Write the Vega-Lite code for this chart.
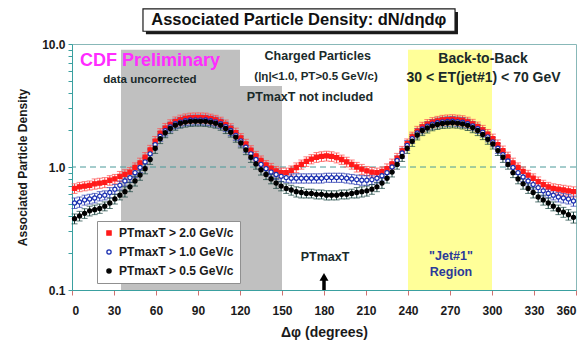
{
"$schema": "https://vega.github.io/schema/vega-lite/v6.json",
"width": 504, "height": 246,
"autosize": {"type": "none"},
"padding": {"left": 72, "top": 44, "right": 11, "bottom": 61},
"background": "white",
"config": {
  "font": "Liberation Sans",
  "view": {"stroke": "#88b8b8", "strokeWidth": 1},
  "axis": {"labelFont": "Liberation Sans", "titleFont": "Liberation Sans", "labelFontWeight": "bold", "titleFontWeight": "bold", "labelColor": "#1a1a1a", "titleColor": "#1a1a1a", "domainColor": "#3aa0a0", "tickColor": "#d07070", "grid": false}
},
"datasets": {
"pts": [
{"s":"a","x":1.8,"y":0.67,"e":0.06},{"s":"a","x":5.4,"y":0.69,"e":0.06},{"s":"a","x":9,"y":0.70,"e":0.06},{"s":"a","x":12.6,"y":0.71,"e":0.06},{"s":"a","x":16.2,"y":0.73,"e":0.07},{"s":"a","x":19.8,"y":0.74,"e":0.07},{"s":"a","x":23.4,"y":0.75,"e":0.07},{"s":"a","x":27,"y":0.78,"e":0.07},{"s":"a","x":30.6,"y":0.80,"e":0.07},{"s":"a","x":34.2,"y":0.84,"e":0.08},
{"s":"a","x":37.8,"y":0.87,"e":0.08},{"s":"a","x":41.4,"y":0.91,"e":0.08},{"s":"a","x":45,"y":0.99,"e":0.09},{"s":"a","x":48.6,"y":1.08,"e":0.1},{"s":"a","x":52.2,"y":1.20,"e":0.11},{"s":"a","x":55.8,"y":1.38,"e":0.12},{"s":"a","x":59.4,"y":1.62,"e":0.15},{"s":"a","x":63,"y":1.88,"e":0.17},{"s":"a","x":66.6,"y":2.07,"e":0.19},{"s":"a","x":70.2,"y":2.22,"e":0.2},
{"s":"a","x":73.8,"y":2.34,"e":0.21},{"s":"a","x":77.4,"y":2.42,"e":0.22},{"s":"a","x":81,"y":2.48,"e":0.22},{"s":"a","x":84.6,"y":2.51,"e":0.23},{"s":"a","x":88.2,"y":2.52,"e":0.23},{"s":"a","x":91.8,"y":2.52,"e":0.23},{"s":"a","x":95.4,"y":2.51,"e":0.23},{"s":"a","x":99,"y":2.47,"e":0.22},{"s":"a","x":102.6,"y":2.41,"e":0.22},{"s":"a","x":106.2,"y":2.33,"e":0.21},
{"s":"a","x":109.8,"y":2.21,"e":0.2},{"s":"a","x":113.4,"y":2.06,"e":0.19},{"s":"a","x":117,"y":1.90,"e":0.17},{"s":"a","x":120.6,"y":1.72,"e":0.15},{"s":"a","x":124.2,"y":1.54,"e":0.14},{"s":"a","x":127.8,"y":1.37,"e":0.12},{"s":"a","x":131.4,"y":1.23,"e":0.11},{"s":"a","x":135,"y":1.13,"e":0.1},{"s":"a","x":138.6,"y":1.04,"e":0.09},{"s":"a","x":142.2,"y":0.98,"e":0.09},
{"s":"a","x":145.8,"y":0.93,"e":0.08},{"s":"a","x":149.4,"y":0.90,"e":0.08},{"s":"a","x":153,"y":0.90,"e":0.08},{"s":"a","x":156.6,"y":0.94,"e":0.08},{"s":"a","x":160.2,"y":0.99,"e":0.09},{"s":"a","x":163.8,"y":1.05,"e":0.09},{"s":"a","x":167.4,"y":1.11,"e":0.1},{"s":"a","x":171,"y":1.16,"e":0.1},{"s":"a","x":174.6,"y":1.20,"e":0.11},{"s":"a","x":178.2,"y":1.22,"e":0.11},
{"s":"a","x":181.8,"y":1.23,"e":0.11},{"s":"a","x":185.4,"y":1.22,"e":0.11},{"s":"a","x":189,"y":1.19,"e":0.11},{"s":"a","x":192.6,"y":1.15,"e":0.1},{"s":"a","x":196.2,"y":1.10,"e":0.1},{"s":"a","x":199.8,"y":1.05,"e":0.09},{"s":"a","x":203.4,"y":1.00,"e":0.09},{"s":"a","x":207,"y":0.96,"e":0.09},{"s":"a","x":210.6,"y":0.93,"e":0.08},{"s":"a","x":214.2,"y":0.91,"e":0.08},
{"s":"a","x":217.8,"y":0.90,"e":0.08},{"s":"a","x":221.4,"y":0.92,"e":0.08},{"s":"a","x":225,"y":0.97,"e":0.09},{"s":"a","x":228.6,"y":1.06,"e":0.1},{"s":"a","x":232.2,"y":1.18,"e":0.11},{"s":"a","x":235.8,"y":1.35,"e":0.12},{"s":"a","x":239.4,"y":1.55,"e":0.14},{"s":"a","x":243,"y":1.76,"e":0.16},{"s":"a","x":246.6,"y":1.96,"e":0.18},{"s":"a","x":250.2,"y":2.12,"e":0.19},
{"s":"a","x":253.8,"y":2.23,"e":0.2},{"s":"a","x":257.4,"y":2.31,"e":0.21},{"s":"a","x":261,"y":2.37,"e":0.21},{"s":"a","x":264.6,"y":2.41,"e":0.22},{"s":"a","x":268.2,"y":2.43,"e":0.22},{"s":"a","x":271.8,"y":2.44,"e":0.22},{"s":"a","x":275.4,"y":2.42,"e":0.22},{"s":"a","x":279,"y":2.39,"e":0.22},{"s":"a","x":282.6,"y":2.33,"e":0.21},{"s":"a","x":286.2,"y":2.24,"e":0.2},
{"s":"a","x":289.8,"y":2.13,"e":0.19},{"s":"a","x":293.4,"y":2.00,"e":0.18},{"s":"a","x":297,"y":1.85,"e":0.17},{"s":"a","x":300.6,"y":1.70,"e":0.15},{"s":"a","x":304.2,"y":1.52,"e":0.14},{"s":"a","x":307.8,"y":1.36,"e":0.12},{"s":"a","x":311.4,"y":1.21,"e":0.11},{"s":"a","x":315,"y":1.08,"e":0.1},{"s":"a","x":318.6,"y":0.99,"e":0.09},{"s":"a","x":322.2,"y":0.92,"e":0.08},
{"s":"a","x":325.8,"y":0.86,"e":0.08},{"s":"a","x":329.4,"y":0.81,"e":0.07},{"s":"a","x":333,"y":0.76,"e":0.07},{"s":"a","x":336.6,"y":0.72,"e":0.06},{"s":"a","x":340.2,"y":0.69,"e":0.06},{"s":"a","x":343.8,"y":0.67,"e":0.06},{"s":"a","x":347.4,"y":0.66,"e":0.06},{"s":"a","x":351,"y":0.65,"e":0.06},{"s":"a","x":354.6,"y":0.64,"e":0.06},{"s":"a","x":358.2,"y":0.63,"e":0.06},
{"s":"b","x":1.8,"y":0.51,"e":0.05},{"s":"b","x":5.4,"y":0.52,"e":0.05},{"s":"b","x":9,"y":0.54,"e":0.05},{"s":"b","x":12.6,"y":0.55,"e":0.05},{"s":"b","x":16.2,"y":0.56,"e":0.05},{"s":"b","x":19.8,"y":0.58,"e":0.05},{"s":"b","x":23.4,"y":0.59,"e":0.05},{"s":"b","x":27,"y":0.62,"e":0.06},{"s":"b","x":30.6,"y":0.66,"e":0.06},{"s":"b","x":34.2,"y":0.71,"e":0.06},
{"s":"b","x":37.8,"y":0.77,"e":0.07},{"s":"b","x":41.4,"y":0.82,"e":0.07},{"s":"b","x":45,"y":0.90,"e":0.08},{"s":"b","x":48.6,"y":0.99,"e":0.09},{"s":"b","x":52.2,"y":1.10,"e":0.1},{"s":"b","x":55.8,"y":1.28,"e":0.12},{"s":"b","x":59.4,"y":1.52,"e":0.14},{"s":"b","x":63,"y":1.78,"e":0.16},{"s":"b","x":66.6,"y":1.97,"e":0.18},{"s":"b","x":70.2,"y":2.12,"e":0.19},
{"s":"b","x":73.8,"y":2.25,"e":0.2},{"s":"b","x":77.4,"y":2.32,"e":0.21},{"s":"b","x":81,"y":2.38,"e":0.21},{"s":"b","x":84.6,"y":2.41,"e":0.22},{"s":"b","x":88.2,"y":2.42,"e":0.22},{"s":"b","x":91.8,"y":2.42,"e":0.22},{"s":"b","x":95.4,"y":2.41,"e":0.22},{"s":"b","x":99,"y":2.38,"e":0.21},{"s":"b","x":102.6,"y":2.33,"e":0.21},{"s":"b","x":106.2,"y":2.25,"e":0.2},
{"s":"b","x":109.8,"y":2.13,"e":0.19},{"s":"b","x":113.4,"y":1.98,"e":0.18},{"s":"b","x":117,"y":1.81,"e":0.16},{"s":"b","x":120.6,"y":1.63,"e":0.15},{"s":"b","x":124.2,"y":1.45,"e":0.13},{"s":"b","x":127.8,"y":1.28,"e":0.12},{"s":"b","x":131.4,"y":1.15,"e":0.1},{"s":"b","x":135,"y":1.05,"e":0.09},{"s":"b","x":138.6,"y":0.97,"e":0.09},{"s":"b","x":142.2,"y":0.91,"e":0.08},
{"s":"b","x":145.8,"y":0.87,"e":0.08},{"s":"b","x":149.4,"y":0.84,"e":0.08},{"s":"b","x":153,"y":0.82,"e":0.07},{"s":"b","x":156.6,"y":0.81,"e":0.07},{"s":"b","x":160.2,"y":0.81,"e":0.07},{"s":"b","x":163.8,"y":0.81,"e":0.07},{"s":"b","x":167.4,"y":0.81,"e":0.07},{"s":"b","x":171,"y":0.81,"e":0.07},{"s":"b","x":174.6,"y":0.81,"e":0.07},{"s":"b","x":178.2,"y":0.81,"e":0.07},
{"s":"b","x":181.8,"y":0.82,"e":0.07},{"s":"b","x":185.4,"y":0.82,"e":0.07},{"s":"b","x":189,"y":0.82,"e":0.07},{"s":"b","x":192.6,"y":0.82,"e":0.07},{"s":"b","x":196.2,"y":0.81,"e":0.07},{"s":"b","x":199.8,"y":0.80,"e":0.07},{"s":"b","x":203.4,"y":0.79,"e":0.07},{"s":"b","x":207,"y":0.78,"e":0.07},{"s":"b","x":210.6,"y":0.78,"e":0.07},{"s":"b","x":214.2,"y":0.79,"e":0.07},
{"s":"b","x":217.8,"y":0.81,"e":0.07},{"s":"b","x":221.4,"y":0.85,"e":0.08},{"s":"b","x":225,"y":0.90,"e":0.08},{"s":"b","x":228.6,"y":1.00,"e":0.09},{"s":"b","x":232.2,"y":1.13,"e":0.1},{"s":"b","x":235.8,"y":1.30,"e":0.12},{"s":"b","x":239.4,"y":1.50,"e":0.14},{"s":"b","x":243,"y":1.70,"e":0.15},{"s":"b","x":246.6,"y":1.89,"e":0.17},{"s":"b","x":250.2,"y":2.04,"e":0.18},
{"s":"b","x":253.8,"y":2.15,"e":0.19},{"s":"b","x":257.4,"y":2.23,"e":0.2},{"s":"b","x":261,"y":2.29,"e":0.21},{"s":"b","x":264.6,"y":2.33,"e":0.21},{"s":"b","x":268.2,"y":2.35,"e":0.21},{"s":"b","x":271.8,"y":2.36,"e":0.21},{"s":"b","x":275.4,"y":2.34,"e":0.21},{"s":"b","x":279,"y":2.31,"e":0.21},{"s":"b","x":282.6,"y":2.25,"e":0.2},{"s":"b","x":286.2,"y":2.16,"e":0.19},
{"s":"b","x":289.8,"y":2.05,"e":0.18},{"s":"b","x":293.4,"y":1.92,"e":0.17},{"s":"b","x":297,"y":1.76,"e":0.16},{"s":"b","x":300.6,"y":1.60,"e":0.14},{"s":"b","x":304.2,"y":1.42,"e":0.13},{"s":"b","x":307.8,"y":1.26,"e":0.11},{"s":"b","x":311.4,"y":1.12,"e":0.1},{"s":"b","x":315,"y":0.99,"e":0.09},{"s":"b","x":318.6,"y":0.90,"e":0.08},{"s":"b","x":322.2,"y":0.83,"e":0.07},
{"s":"b","x":325.8,"y":0.77,"e":0.07},{"s":"b","x":329.4,"y":0.72,"e":0.06},{"s":"b","x":333,"y":0.68,"e":0.06},{"s":"b","x":336.6,"y":0.64,"e":0.06},{"s":"b","x":340.2,"y":0.61,"e":0.05},{"s":"b","x":343.8,"y":0.59,"e":0.05},{"s":"b","x":347.4,"y":0.57,"e":0.05},{"s":"b","x":351,"y":0.56,"e":0.05},{"s":"b","x":354.6,"y":0.55,"e":0.05},{"s":"b","x":358.2,"y":0.53,"e":0.05},
{"s":"c","x":1.8,"y":0.38,"e":0.035},{"s":"c","x":5.4,"y":0.40,"e":0.036},{"s":"c","x":9,"y":0.42,"e":0.038},{"s":"c","x":12.6,"y":0.44,"e":0.04},{"s":"c","x":16.2,"y":0.45,"e":0.04},{"s":"c","x":19.8,"y":0.46,"e":0.04},{"s":"c","x":23.4,"y":0.48,"e":0.04},{"s":"c","x":27,"y":0.51,"e":0.05},{"s":"c","x":30.6,"y":0.55,"e":0.05},{"s":"c","x":34.2,"y":0.59,"e":0.05},
{"s":"c","x":37.8,"y":0.63,"e":0.06},{"s":"c","x":41.4,"y":0.69,"e":0.06},{"s":"c","x":45,"y":0.77,"e":0.07},{"s":"c","x":48.6,"y":0.86,"e":0.08},{"s":"c","x":52.2,"y":0.97,"e":0.09},{"s":"c","x":55.8,"y":1.15,"e":0.1},{"s":"c","x":59.4,"y":1.42,"e":0.13},{"s":"c","x":63,"y":1.70,"e":0.15},{"s":"c","x":66.6,"y":1.90,"e":0.17},{"s":"c","x":70.2,"y":2.06,"e":0.19},
{"s":"c","x":73.8,"y":2.19,"e":0.2},{"s":"c","x":77.4,"y":2.27,"e":0.2},{"s":"c","x":81,"y":2.32,"e":0.21},{"s":"c","x":84.6,"y":2.35,"e":0.21},{"s":"c","x":88.2,"y":2.36,"e":0.21},{"s":"c","x":91.8,"y":2.36,"e":0.21},{"s":"c","x":95.4,"y":2.35,"e":0.21},{"s":"c","x":99,"y":2.32,"e":0.21},{"s":"c","x":102.6,"y":2.27,"e":0.2},{"s":"c","x":106.2,"y":2.19,"e":0.2},
{"s":"c","x":109.8,"y":2.06,"e":0.19},{"s":"c","x":113.4,"y":1.92,"e":0.17},{"s":"c","x":117,"y":1.75,"e":0.16},{"s":"c","x":120.6,"y":1.57,"e":0.14},{"s":"c","x":124.2,"y":1.38,"e":0.12},{"s":"c","x":127.8,"y":1.20,"e":0.11},{"s":"c","x":131.4,"y":1.06,"e":0.1},{"s":"c","x":135,"y":0.95,"e":0.09},{"s":"c","x":138.6,"y":0.87,"e":0.08},{"s":"c","x":142.2,"y":0.80,"e":0.07},
{"s":"c","x":145.8,"y":0.74,"e":0.07},{"s":"c","x":149.4,"y":0.70,"e":0.06},{"s":"c","x":153,"y":0.67,"e":0.06},{"s":"c","x":156.6,"y":0.65,"e":0.06},{"s":"c","x":160.2,"y":0.63,"e":0.06},{"s":"c","x":163.8,"y":0.62,"e":0.06},{"s":"c","x":167.4,"y":0.61,"e":0.05},{"s":"c","x":171,"y":0.61,"e":0.05},{"s":"c","x":174.6,"y":0.60,"e":0.05},{"s":"c","x":178.2,"y":0.60,"e":0.05},
{"s":"c","x":181.8,"y":0.59,"e":0.05},{"s":"c","x":185.4,"y":0.59,"e":0.05},{"s":"c","x":189,"y":0.59,"e":0.05},{"s":"c","x":192.6,"y":0.60,"e":0.05},{"s":"c","x":196.2,"y":0.60,"e":0.05},{"s":"c","x":199.8,"y":0.61,"e":0.05},{"s":"c","x":203.4,"y":0.62,"e":0.06},{"s":"c","x":207,"y":0.63,"e":0.06},{"s":"c","x":210.6,"y":0.64,"e":0.06},{"s":"c","x":214.2,"y":0.66,"e":0.06},
{"s":"c","x":217.8,"y":0.69,"e":0.06},{"s":"c","x":221.4,"y":0.74,"e":0.07},{"s":"c","x":225,"y":0.81,"e":0.07},{"s":"c","x":228.6,"y":0.91,"e":0.08},{"s":"c","x":232.2,"y":1.05,"e":0.09},{"s":"c","x":235.8,"y":1.22,"e":0.11},{"s":"c","x":239.4,"y":1.42,"e":0.13},{"s":"c","x":243,"y":1.62,"e":0.15},{"s":"c","x":246.6,"y":1.82,"e":0.16},{"s":"c","x":250.2,"y":1.98,"e":0.18},
{"s":"c","x":253.8,"y":2.08,"e":0.19},{"s":"c","x":257.4,"y":2.16,"e":0.19},{"s":"c","x":261,"y":2.22,"e":0.2},{"s":"c","x":264.6,"y":2.26,"e":0.2},{"s":"c","x":268.2,"y":2.28,"e":0.21},{"s":"c","x":271.8,"y":2.29,"e":0.21},{"s":"c","x":275.4,"y":2.27,"e":0.2},{"s":"c","x":279,"y":2.24,"e":0.2},{"s":"c","x":282.6,"y":2.18,"e":0.2},{"s":"c","x":286.2,"y":2.09,"e":0.19},
{"s":"c","x":289.8,"y":1.98,"e":0.18},{"s":"c","x":293.4,"y":1.84,"e":0.17},{"s":"c","x":297,"y":1.68,"e":0.15},{"s":"c","x":300.6,"y":1.54,"e":0.14},{"s":"c","x":304.2,"y":1.36,"e":0.12},{"s":"c","x":307.8,"y":1.20,"e":0.11},{"s":"c","x":311.4,"y":1.05,"e":0.09},{"s":"c","x":315,"y":0.90,"e":0.08},{"s":"c","x":318.6,"y":0.80,"e":0.07},{"s":"c","x":322.2,"y":0.73,"e":0.07},
{"s":"c","x":325.8,"y":0.67,"e":0.06},{"s":"c","x":329.4,"y":0.62,"e":0.06},{"s":"c","x":333,"y":0.57,"e":0.05},{"s":"c","x":336.6,"y":0.54,"e":0.05},{"s":"c","x":340.2,"y":0.51,"e":0.05},{"s":"c","x":343.8,"y":0.48,"e":0.04},{"s":"c","x":347.4,"y":0.45,"e":0.04},{"s":"c","x":351,"y":0.43,"e":0.04},{"s":"c","x":354.6,"y":0.41,"e":0.04},{"s":"c","x":358.2,"y":0.39,"e":0.04}
]
},
"layer": [
{
  "data": {"values": [{"x": 52.8, "x2": 275.7, "y": 12.0, "y2": 18.2}]},
  "mark": {"type": "rect", "color": "#1a1a1a"},
  "encoding": {
    "x": {"field": "x", "type": "quantitative", "scale": {"domain": [0, 360], "nice": false},
      "axis": {"title": "Δφ  (degrees)", "values": [0,30,60,90,120,150,180,210,240,270,300,330,360], "labelFontSize": 12, "titleFontSize": 14, "tickSize": 5, "labelPadding": 10, "titlePadding": 9}},
    "x2": {"field": "x2"},
    "y": {"field": "y", "type": "quantitative", "scale": {"type": "log", "domain": [0.1, 10], "nice": false},
      "axis": {"title": "Associated Particle Density", "values": [0.1,0.2,0.3,0.4,0.5,0.6,0.7,0.8,0.9,1,2,3,4,5,6,7,8,9,10], "labelExpr": "datum.value == 0.1 ? '0.1' : datum.value == 1 ? '1.0' : datum.value == 10 ? '10.0' : ''", "labelFontSize": 12, "titleFontSize": 12, "tickSize": 4, "labelPadding": 3, "titlePadding": 12, "tickColor": "#3aa0a0"}},
    "y2": {"field": "y2"}
  }
},
{
  "data": {"values": [{"x": 50.7, "x2": 273.6, "y": 12.7, "y2": 19.3}]},
  "mark": {"type": "rect", "fill": "white", "stroke": "#1a1a1a", "strokeWidth": 1.2},
  "encoding": {"x": {"field": "x", "type": "quantitative"}, "x2": {"field": "x2"}, "y": {"field": "y", "type": "quantitative"}, "y2": {"field": "y2"}}
},
{
  "data": {"values": [{"x": 162, "y": 15.7, "t": "Associated Particle Density: dN/dηdφ"}]},
  "mark": {"type": "text", "fontSize": 16.5, "fontWeight": "bold", "color": "#111111", "baseline": "middle"},
  "encoding": {"x": {"field": "x", "type": "quantitative"}, "y": {"field": "y", "type": "quantitative"}, "text": {"field": "t"}}
},
{
  "data": {"values": [{"x": 35, "x2": 120, "y": 0.1, "y2": 9}, {"x": 120, "x2": 150, "y": 0.1, "y2": 4.55}]},
  "mark": {"type": "rect", "color": "#c0c0c0"},
  "encoding": {"x": {"field": "x", "type": "quantitative"}, "x2": {"field": "x2"}, "y": {"field": "y", "type": "quantitative"}, "y2": {"field": "y2"}}
},
{
  "data": {"values": [{"x": 240, "x2": 300, "y": 0.1, "y2": 9}]},
  "mark": {"type": "rect", "color": "#ffff99"},
  "encoding": {"x": {"field": "x", "type": "quantitative"}, "x2": {"field": "x2"}, "y": {"field": "y", "type": "quantitative"}, "y2": {"field": "y2"}}
},
{
  "data": {"values": [{"y": 1}]},
  "mark": {"type": "rule", "color": "#4a9a9a", "strokeDash": [6, 4], "strokeWidth": 1},
  "encoding": {"y": {"field": "y", "type": "quantitative"}}
},
{
  "data": {"name": "pts"},
  "mark": {"type": "errorbar", "ticks": {"size": 6}, "thickness": 1},
  "encoding": {
    "x": {"field": "x", "type": "quantitative", "title": "Δφ  (degrees)"},
    "y": {"field": "y", "type": "quantitative", "title": "Associated Particle Density"},
    "yError": {"field": "e"},
    "color": {"field": "s", "type": "nominal", "scale": {"range": ["#ff4a4a", "#2a3ab0", "#15403c"]}, "legend": null}
  }
},
{
  "data": {"name": "pts"},
  "mark": {"type": "point", "filled": true, "size": 17, "strokeWidth": 1.2, "opacity": 1},
  "encoding": {
    "x": {"field": "x", "type": "quantitative", "title": "Δφ  (degrees)"},
    "y": {"field": "y", "type": "quantitative", "title": "Associated Particle Density"},
    "fill": {"field": "s", "type": "nominal", "scale": {"domain": ["a", "b", "c"], "range": ["#ff1a1a", "white", "black"]},
      "legend": {"title": null, "orient": "none", "legendX": 25, "legendY": 177, "fillColor": "white", "strokeColor": "#909090", "padding": 6, "labelFontSize": 12, "labelFontWeight": "bold", "labelColor": "#1a1a1a", "rowPadding": 7, "symbolSize": 18, "symbolStrokeWidth": 1.3, "labelExpr": "datum.value == 'a' ? 'PTmaxT > 2.0 GeV/c' : datum.value == 'b' ? 'PTmaxT > 1.0 GeV/c' : 'PTmaxT > 0.5 GeV/c'"}},
    "stroke": {"field": "s", "type": "nominal", "scale": {"domain": ["a", "b", "c"], "range": ["#ff1a1a", "#1a2fb0", "black"]},
      "legend": {"title": null, "orient": "none", "legendX": 25, "legendY": 177, "fillColor": "white", "strokeColor": "#909090", "padding": 6, "labelFontSize": 12, "labelFontWeight": "bold", "labelColor": "#1a1a1a", "rowPadding": 7, "symbolSize": 18, "symbolStrokeWidth": 1.3, "labelExpr": "datum.value == 'a' ? 'PTmaxT > 2.0 GeV/c' : datum.value == 'b' ? 'PTmaxT > 1.0 GeV/c' : 'PTmaxT > 0.5 GeV/c'"}},
    "shape": {"field": "s", "type": "nominal", "scale": {"domain": ["a", "b", "c"], "range": ["square", "circle", "circle"]},
      "legend": {"title": null, "orient": "none", "legendX": 25, "legendY": 177, "fillColor": "white", "strokeColor": "#909090", "padding": 6, "labelFontSize": 12, "labelFontWeight": "bold", "labelColor": "#1a1a1a", "rowPadding": 7, "symbolSize": 18, "symbolStrokeWidth": 1.3, "labelExpr": "datum.value == 'a' ? 'PTmaxT > 2.0 GeV/c' : datum.value == 'b' ? 'PTmaxT > 1.0 GeV/c' : 'PTmaxT > 0.5 GeV/c'"}}
  }
},
{
  "data": {"values": [{"x": 55.7, "y": 7.27, "t": "CDF Preliminary"}]},
  "mark": {"type": "text", "fontSize": 18, "fontWeight": "bold", "color": "#ff2cff", "baseline": "middle"},
  "encoding": {"x": {"field": "x", "type": "quantitative"}, "y": {"field": "y", "type": "quantitative"}, "text": {"field": "t"}}
},
{
  "data": {"values": [{"x": 55.7, "y": 5.1, "t": "data uncorrected"}, {"x": 174.3, "y": 5.39, "t": "(|η|<1.0, PT>0.5 GeV/c)"}]},
  "mark": {"type": "text", "fontSize": 11.5, "fontWeight": "bold", "color": "#1a2a2a", "baseline": "middle"},
  "encoding": {"x": {"field": "x", "type": "quantitative"}, "y": {"field": "y", "type": "quantitative"}, "text": {"field": "t"}}
},
{
  "data": {"values": [{"x": 175.5, "y": 7.98, "t": "Charged Particles"}, {"x": 170, "y": 3.71, "t": "PTmaxT not included"}, {"x": 180.7, "y": 0.185, "t": "PTmaxT"}]},
  "mark": {"type": "text", "fontSize": 12.5, "fontWeight": "bold", "color": "#1a2a2a", "baseline": "middle"},
  "encoding": {"x": {"field": "x", "type": "quantitative"}, "y": {"field": "y", "type": "quantitative"}, "text": {"field": "t"}}
},
{
  "data": {"values": [{"x": 293.6, "y": 7.55, "t": "Back-to-Back"}, {"x": 294, "y": 5.29, "t": "30 < ET(jet#1) < 70 GeV"}]},
  "mark": {"type": "text", "fontSize": 14, "fontWeight": "bold", "color": "#1a2a2a", "baseline": "middle"},
  "encoding": {"x": {"field": "x", "type": "quantitative"}, "y": {"field": "y", "type": "quantitative"}, "text": {"field": "t"}}
},
{
  "data": {"values": [{"x": 270.7, "y": 0.19, "t": "\"Jet#1\""}, {"x": 270.7, "y": 0.14, "t": "Region"}]},
  "mark": {"type": "text", "fontSize": 12.5, "fontWeight": "bold", "color": "#2a3a9a", "baseline": "middle"},
  "encoding": {"x": {"field": "x", "type": "quantitative"}, "y": {"field": "y", "type": "quantitative"}, "text": {"field": "t"}}
},
{
  "data": {"values": [{"x": 180, "y": 0.1, "y2": 0.126}]},
  "mark": {"type": "rule", "color": "black", "strokeWidth": 3.5},
  "encoding": {"x": {"field": "x", "type": "quantitative"}, "y": {"field": "y", "type": "quantitative"}, "y2": {"field": "y2"}}
},
{
  "data": {"values": [{"x": 180, "y": 0.128}]},
  "mark": {"type": "point", "shape": "triangle-up", "filled": true, "color": "black", "size": 80, "opacity": 1},
  "encoding": {"x": {"field": "x", "type": "quantitative"}, "y": {"field": "y", "type": "quantitative"}}
}
]
}
